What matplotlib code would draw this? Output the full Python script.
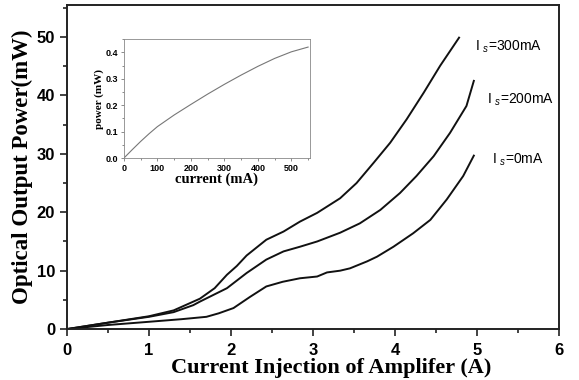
import matplotlib
matplotlib.use("Agg")
import matplotlib.pyplot as plt
from matplotlib.ticker import MultipleLocator

plt.rcParams['mathtext.fontset'] = 'custom'
plt.rcParams['mathtext.rm'] = 'Liberation Sans'
plt.rcParams['mathtext.it'] = 'Liberation Sans:italic'

# Is = 300 mA
x300 = [0, 0.5, 1.0, 1.3, 1.62, 1.8, 1.95, 2.07, 2.19, 2.43, 2.64, 2.84, 3.05,
        3.33, 3.53, 3.74, 3.94, 4.14, 4.35, 4.55, 4.78]
y300 = [0, 1.1, 2.2, 3.2, 5.2, 7.0, 9.3, 10.8, 12.6, 15.3, 16.7, 18.4, 19.9,
        22.4, 25.0, 28.5, 31.9, 35.9, 40.5, 45.1, 49.9]
# Is = 200 mA
x200 = [0, 0.5, 1.0, 1.3, 1.54, 1.62, 1.95, 2.19, 2.43, 2.64, 2.84, 3.05, 3.33,
        3.57, 3.82, 4.06, 4.26, 4.47, 4.67, 4.87, 4.96]
y200 = [0, 1.1, 2.1, 2.9, 4.1, 4.7, 7.0, 9.6, 11.9, 13.3, 14.1, 15.0, 16.5,
        18.1, 20.4, 23.3, 26.2, 29.6, 33.6, 38.2, 42.5]
# Is = 0 mA
x0 = [0, 0.5, 1.0, 1.4, 1.70, 1.85, 2.03, 2.23, 2.43, 2.63, 2.84, 3.05, 3.17,
      3.33, 3.45, 3.66, 3.78, 3.98, 4.22, 4.43, 4.63, 4.83, 4.96]
y0 = [0, 0.7, 1.25, 1.7, 2.1, 2.7, 3.6, 5.5, 7.3, 8.1, 8.7, 9.0, 9.7,
      10.0, 10.4, 11.6, 12.4, 14.1, 16.4, 18.7, 22.2, 26.2, 29.7]

labels = ['I $_{\\it{s}}$=300mA', 'I $_{\\it{s}}$=200mA', 'I $_{\\it{s}}$=0mA']
label_pos = [(4.98, 48.3), (5.12, 39.2), (5.18, 29.0)]

# inset: seed current vs power
xin = [0, 25, 50, 75, 100, 150, 200, 250, 300, 350, 400, 450, 500, 550]
yin = [0, 0.032, 0.063, 0.092, 0.119, 0.163, 0.203, 0.242, 0.279, 0.314,
       0.347, 0.377, 0.402, 0.42]

fig = plt.figure(figsize=(5.79, 3.8), dpi=100)
ax = fig.add_axes([0.1157, 0.134, 0.85, 0.853])

for xs, ys in [(x300, y300), (x200, y200), (x0, y0)]:
    ax.plot(xs, ys, color='#111111', lw=1.4)

for t, (px, py) in zip(labels, label_pos):
    ax.text(px, py, t, fontsize=10, family='Liberation Sans', va='center', ha='left')

ax.set_xlim(0, 6)
ax.set_ylim(0, 55.5)
ax.xaxis.set_major_locator(MultipleLocator(1))
ax.xaxis.set_minor_locator(MultipleLocator(0.5))
ax.yaxis.set_major_locator(MultipleLocator(10))
ax.yaxis.set_minor_locator(MultipleLocator(5))
ax.tick_params(which='both', direction='out', width=1.2, color='#222222')
ax.tick_params(which='major', length=5)
ax.tick_params(which='minor', length=3)
ax.tick_params(axis='x', pad=5)
for lab in ax.get_xticklabels() + ax.get_yticklabels():
    lab.set_family('Liberation Sans')
    lab.set_fontweight('bold')
    lab.set_fontsize(12)
for s in ax.spines.values():
    s.set_linewidth(1.4)
    s.set_color('#222222')

ax.set_xlabel('Current Injection of Amplifer (A)', family='Liberation Serif',
              fontweight='bold', fontsize=16)
ax.xaxis.set_label_coords(0.537, -0.09)
ax.set_ylabel('Optical Output Power(mW)', family='Liberation Serif',
              fontweight='bold', fontsize=16.5, labelpad=3)

# inset
ins = fig.add_axes([0.214, 0.584, 0.321, 0.313])
ins.plot(xin, yin, color='#777777', lw=0.8)
ins.set_xlim(0, 555)
ins.set_ylim(0, 0.45)
ins.xaxis.set_major_locator(MultipleLocator(100))
ins.xaxis.set_minor_locator(MultipleLocator(50))
ins.yaxis.set_major_locator(MultipleLocator(0.1))
ins.yaxis.set_minor_locator(MultipleLocator(0.05))
ins.set_yticks([0, 0.1, 0.2, 0.3, 0.4])
ins.set_yticklabels(['0.0', '0.1', '0.2', '0.3', '0.4'])
ins.tick_params(which='both', direction='out', width=0.6, color='#777777', pad=1.5)
ins.tick_params(which='major', length=2.5, labelsize=6.5)
ins.tick_params(which='minor', length=1.5)
for lab in ins.get_xticklabels() + ins.get_yticklabels():
    lab.set_fontweight('bold')
    lab.set_family('Liberation Sans')
for s in ins.spines.values():
    s.set_linewidth(0.6)
    s.set_color('#888888')
ins.set_xlabel('current (mA)', family='Liberation Serif', fontweight='bold',
               fontsize=10.5, labelpad=0)
ins.set_ylabel('power (mW)', family='Liberation Serif', fontweight='bold',
               fontsize=8, labelpad=1)

fig.savefig('out.png', dpi=100)
